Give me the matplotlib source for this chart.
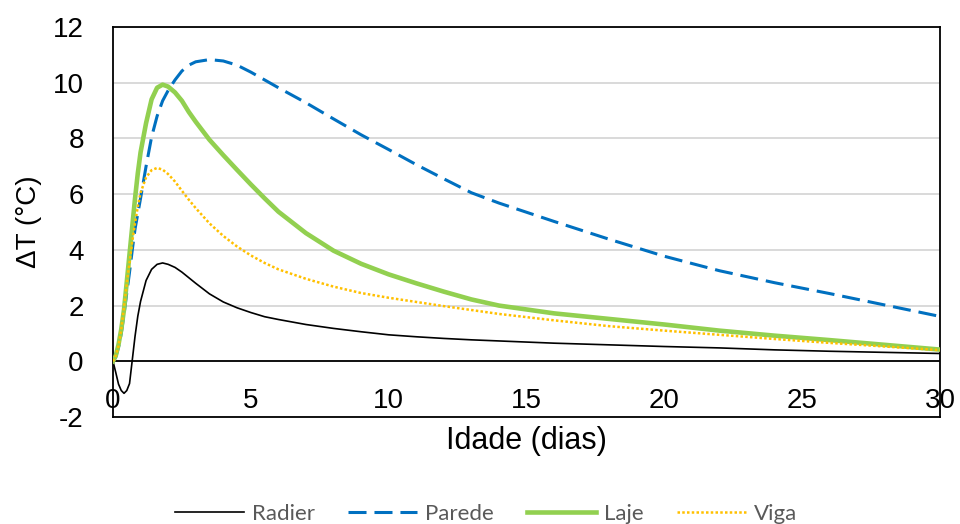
import matplotlib
matplotlib.use("Agg")
import matplotlib.pyplot as plt

# ==== dados ====
idade = [0, 0.1, 0.2, 0.3, 0.4, 0.5, 0.6, 0.7, 0.8, 0.9, 1.0,
         1.2, 1.4, 1.6, 1.8, 2.0, 2.25, 2.5, 2.75, 3.0, 3.5, 4.0, 4.5, 5.0, 5.5, 6.0,
         7, 8, 9, 10, 11, 12, 13, 14, 16, 18, 20, 22, 24, 26, 28, 30]

radier = [0, -0.4, -0.82, -1.05, -1.15, -1.05, -0.8, 0.05, 0.9, 1.62, 2.15,
          2.9, 3.3, 3.48, 3.53, 3.48, 3.37, 3.2, 3.0, 2.8, 2.42, 2.13, 1.92, 1.75, 1.6, 1.5,
          1.32, 1.18, 1.06, 0.95, 0.88, 0.82, 0.77, 0.73, 0.65, 0.59, 0.53, 0.48, 0.41,
          0.36, 0.32, 0.28]

parede = [0, 0.15, 0.5, 1.0, 1.7, 2.45, 3.2, 4.0, 4.75, 5.3, 5.85,
          7.0, 8.05, 8.8, 9.35, 9.72, 10.1, 10.42, 10.63, 10.75, 10.83, 10.78, 10.63,
          10.38, 10.1, 9.82, 9.28, 8.7, 8.13, 7.6, 7.06, 6.55, 6.05, 5.68, 5.02, 4.38,
          3.77, 3.25, 2.82, 2.43, 2.02, 1.61]

laje = [0, 0.2, 0.6, 1.15, 1.86, 2.85, 3.85, 4.85, 5.85, 6.75, 7.5,
        8.55, 9.4, 9.82, 9.93, 9.86, 9.65, 9.35, 8.95, 8.6, 7.95, 7.4, 6.87, 6.35, 5.85,
        5.37, 4.6, 3.97, 3.5, 3.12, 2.8, 2.5, 2.22, 2.0, 1.72, 1.52, 1.32, 1.1, 0.92,
        0.76, 0.59, 0.42]

viga = [0, 0.2, 0.55, 1.15, 1.95, 2.8, 3.55, 4.3, 4.97, 5.55, 6.05,
        6.6, 6.86, 6.94, 6.88, 6.72, 6.45, 6.12, 5.8, 5.5, 4.95, 4.5, 4.12, 3.8, 3.53,
        3.3, 2.96, 2.68, 2.45, 2.28, 2.13, 1.98, 1.84, 1.7, 1.47, 1.26, 1.1, 0.95, 0.8,
        0.66, 0.53, 0.4]

xticks = [0, 5, 10, 15, 20, 25, 30]
yticks = [-2, 0, 2, 4, 6, 8, 10, 12]

# ==== figura ====
plt.rcParams["font.family"] = ["Liberation Sans", "DejaVu Sans"]
plt.rcParams["axes.unicode_minus"] = False

fig = plt.figure(figsize=(9.6, 5.24), dpi=100)
ax = fig.add_axes([0.1177, 0.2042, 0.8615, 0.7443])

for yv in yticks:
    ax.axhline(yv, color="#D9D9D9", lw=1.4, zorder=0)
ax.axhline(0, color="black", lw=1.3, zorder=1)

ax.plot(idade, radier, color="black", lw=1.2, label="Radier", zorder=2,
        solid_joinstyle="round")
ax.plot(idade, parede, color="#0070C0", lw=2.2, linestyle=(0, (5.9, 2.6)),
        label="Parede", zorder=3, dash_joinstyle="round")
ax.plot(idade, laje, color="#92D050", lw=3.3, label="Laje", zorder=4,
        solid_joinstyle="round")
ax.plot(idade, viga, color="#FFC000", lw=1.8, linestyle=(0, (1, 0.9)),
        label="Viga", zorder=5)

ax.set_xlim(0, 30)
ax.set_ylim(-2, 12)
ax.set_xticks(xticks)
ax.set_yticks(yticks)
ax.tick_params(axis="x", length=0, pad=-21, labelsize=20)
ax.tick_params(axis="y", length=0, pad=21, labelsize=20)

for sp in ax.spines.values():
    sp.set_color("black")
    sp.set_linewidth(1.3)

ax.set_xlabel("Idade (dias)", fontsize=22)
ax.set_ylabel("ΔT (°C)", fontsize=20)
ax.xaxis.set_label_coords(0.5, -0.023)
ax.yaxis.set_label_coords(-0.086, 0.5)

fig.legend(loc="center", bbox_to_anchor=(0.506, 0.02), ncol=4, frameon=False,
           prop={"family": "Lato", "size": 16}, labelcolor="#595959",
           handlelength=3.1, handletextpad=0.36, columnspacing=1.5)

fig.savefig("out.png", dpi=100)
